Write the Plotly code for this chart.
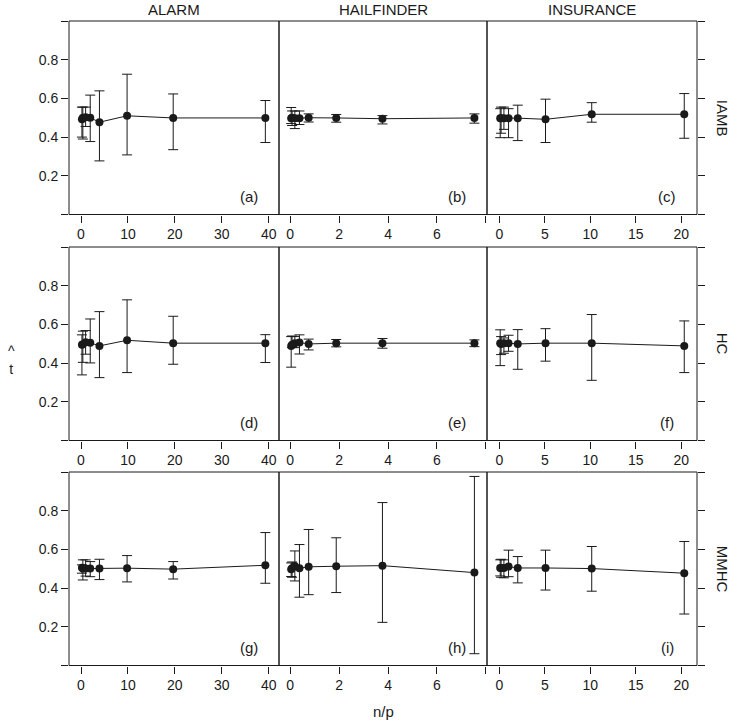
import plotly.graph_objects as go

# ---------------- data ----------------
networks = ["ALARM", "HAILFINDER", "INSURANCE"]
algorithms = ["IAMB", "HC", "MMHC"]
panel_tags = ["(a)", "(b)", "(c)", "(d)", "(e)", "(f)", "(g)", "(h)", "(i)"]

# n/p ratios per network
x_alarm = [0.196, 0.393, 0.982, 1.965, 3.93, 9.82, 19.65, 39.29]
x_hailfinder = [0.038, 0.075, 0.188, 0.376, 0.753, 1.88, 3.77, 7.53]
x_insurance = [0.10, 0.20, 0.51, 1.02, 2.03, 5.08, 10.16, 20.33]

# IAMB
mean_a = [0.492, 0.500, 0.503, 0.500, 0.477, 0.510, 0.499, 0.499]
low_a = [0.400, 0.390, 0.455, 0.377, 0.277, 0.308, 0.335, 0.372]
up_a = [0.555, 0.555, 0.555, 0.617, 0.639, 0.725, 0.623, 0.589]

mean_b = [0.497, 0.500, 0.497, 0.498, 0.500, 0.499, 0.495, 0.499]
low_b = [0.470, 0.460, 0.444, 0.465, 0.478, 0.477, 0.468, 0.472]
up_b = [0.553, 0.535, 0.535, 0.535, 0.520, 0.517, 0.511, 0.520]

mean_c = [0.498, 0.498, 0.498, 0.498, 0.498, 0.492, 0.518, 0.518]
low_c = [0.397, 0.420, 0.440, 0.397, 0.382, 0.372, 0.477, 0.394]
up_c = [0.547, 0.555, 0.555, 0.547, 0.565, 0.596, 0.578, 0.625]

# HC
mean_d = [0.495, 0.498, 0.508, 0.505, 0.489, 0.518, 0.503, 0.503]
low_d = [0.339, 0.404, 0.446, 0.401, 0.325, 0.351, 0.394, 0.403]
up_d = [0.546, 0.565, 0.568, 0.628, 0.666, 0.727, 0.642, 0.547]

mean_e = [0.489, 0.495, 0.503, 0.506, 0.499, 0.503, 0.503, 0.503]
low_e = [0.379, 0.480, 0.480, 0.447, 0.468, 0.484, 0.477, 0.485]
up_e = [0.537, 0.540, 0.537, 0.546, 0.524, 0.522, 0.527, 0.520]

mean_f = [0.503, 0.499, 0.503, 0.503, 0.499, 0.503, 0.503, 0.489]
low_f = [0.387, 0.444, 0.451, 0.461, 0.368, 0.410, 0.311, 0.351]
up_f = [0.572, 0.537, 0.530, 0.544, 0.573, 0.578, 0.651, 0.618]

# MMHC
mean_g = [0.505, 0.501, 0.501, 0.501, 0.501, 0.503, 0.498, 0.518]
low_g = [0.477, 0.442, 0.462, 0.459, 0.444, 0.432, 0.447, 0.425]
up_g = [0.520, 0.546, 0.546, 0.537, 0.549, 0.568, 0.537, 0.687]

mean_h = [0.498, 0.503, 0.514, 0.503, 0.510, 0.513, 0.516, 0.480]
low_h = [0.460, 0.456, 0.437, 0.353, 0.366, 0.377, 0.223, 0.061]
up_h = [0.530, 0.535, 0.592, 0.625, 0.703, 0.660, 0.842, 0.977]

mean_i = [0.504, 0.504, 0.504, 0.511, 0.504, 0.504, 0.501, 0.477]
low_i = [0.463, 0.456, 0.453, 0.459, 0.427, 0.390, 0.384, 0.266]
up_i = [0.546, 0.549, 0.546, 0.596, 0.563, 0.596, 0.615, 0.641]

x_by_col = [x_alarm, x_hailfinder, x_insurance]
series = [
    [(mean_a, low_a, up_a), (mean_b, low_b, up_b), (mean_c, low_c, up_c)],
    [(mean_d, low_d, up_d), (mean_e, low_e, up_e), (mean_f, low_f, up_f)],
    [(mean_g, low_g, up_g), (mean_h, low_h, up_h), (mean_i, low_i, up_i)],
]

x_ticks = [[0, 10, 20, 30, 40], [0, 2, 4, 6, 8], [0, 5, 10, 15, 20]]
x_ticktext = [["0", "10", "20", "30", "40"], ["0", "2", "4", "6", ""], ["0", "5", "10", "15", "20"]]
x_ranges = [[-2.56, 42.2], [-0.46, 8.045], [-1.35, 21.73]]
y_ticks = [0, 0.2, 0.4, 0.6, 0.8, 1.0]
y_ticktext = ["", "0.2", "0.4", "0.6", "0.8", ""]

# ---------------- layout geometry ----------------
W, H = 740, 722
col_px = [(69, 279), (279, 487), (487, 697)]
row_px = [(21, 214.5), (247, 440.5), (472, 665.5)]

INK = "#1a1a1a"
FONT = "Liberation Sans, Arial, sans-serif"

fig = go.Figure()
layout = dict(
    width=W, height=H,
    margin=dict(l=0, r=0, t=0, b=0),
    paper_bgcolor="white", plot_bgcolor="white",
    showlegend=False,
    font=dict(family=FONT, size=14, color=INK),
)
annotations = []
shapes = []

k = 0
for r in range(3):
    for c in range(3):
        k += 1
        xa = "xaxis" if k == 1 else f"xaxis{k}"
        ya = "yaxis" if k == 1 else f"yaxis{k}"
        xref = "x" if k == 1 else f"x{k}"
        yref = "y" if k == 1 else f"y{k}"
        mean, low, up = series[r][c]
        xs = x_by_col[c]
        fig.add_trace(go.Scatter(
            x=xs, y=mean, mode="lines+markers",
            xaxis=xref, yaxis=yref,
            line=dict(color=INK, width=1),
            marker=dict(color=INK, size=8, symbol="circle"),
            error_y=dict(
                type="data", symmetric=False,
                array=[u - m for u, m in zip(up, mean)],
                arrayminus=[m - l for m, l in zip(mean, low)],
                color=INK, thickness=1, width=5,
            ),
            cliponaxis=False,
        ))
        x0, x1 = col_px[c]
        y0, y1 = row_px[r]
        layout[xa] = dict(
            domain=[x0 / W, x1 / W], range=x_ranges[c],
            anchor=yref, showgrid=False, zeroline=False, showline=False,
            ticks="outside", ticklen=7, tickwidth=1, tickcolor=INK,
            tickvals=x_ticks[c], ticktext=x_ticktext[c],
            tickfont=dict(size=14, color=INK, family=FONT),
        )
        ydict = dict(
            domain=[1 - y1 / H, 1 - y0 / H], range=[0, 1],
            anchor=xref, showgrid=False, zeroline=False, showline=False,
            tickvals=y_ticks, ticktext=y_ticktext,
            tickfont=dict(size=14, color=INK, family=FONT),
        )
        if c == 0:
            ydict.update(ticks="outside", ticklen=7, tickwidth=1, tickcolor=INK, showticklabels=True)
        elif c == 2:
            ydict.update(side="right", ticks="outside", ticklen=7, tickwidth=1, tickcolor=INK, showticklabels=False)
        else:
            ydict.update(ticks="", showticklabels=False)
        layout[ya] = ydict
        # panel frame
        shapes.append(dict(
            type="rect", xref="paper", yref="paper",
            x0=x0 / W, x1=x1 / W, y0=1 - y1 / H, y1=1 - y0 / H,
            line=dict(color=INK, width=1), fillcolor="rgba(0,0,0,0)", layer="above",
        ))
        # panel tag
        annotations.append(dict(
            x=(x1 - 30) / W, y=1 - (y1 - 18) / H, xref="paper", yref="paper",
            text=panel_tags[k - 1], showarrow=False,
            font=dict(size=15, color=INK, family=FONT),
            xanchor="center", yanchor="middle",
        ))

# column strip titles
for c, name in enumerate(networks):
    x0, x1 = col_px[c]
    annotations.append(dict(
        x=(x0 + x1) / 2 / W, y=1 - 10 / H, xref="paper", yref="paper",
        text=name, showarrow=False, font=dict(size=15, color=INK, family=FONT),
        xanchor="center", yanchor="middle",
    ))
# row labels
for r, name in enumerate(algorithms):
    y0, y1 = row_px[r]
    annotations.append(dict(
        x=722 / W, y=1 - (y0 + y1) / 2 / H, xref="paper", yref="paper",
        text=name, showarrow=False, textangle=90,
        font=dict(size=15, color=INK, family=FONT),
        xanchor="center", yanchor="middle",
    ))
# axis titles
annotations.append(dict(
    x=383 / W, y=1 - 711 / H, xref="paper", yref="paper",
    text="n/p", showarrow=False, font=dict(size=15, color=INK, family=FONT),
    xanchor="center", yanchor="middle",
))
annotations.append(dict(
    x=11 / W, y=1 - 360 / H, xref="paper", yref="paper",
    text="^<br>t", showarrow=False, align="center",
    font=dict(size=14, color=INK, family=FONT),
    xanchor="center", yanchor="middle",
))

layout["annotations"] = annotations
layout["shapes"] = shapes
fig.update_layout(**layout)
fig.write_html(
    "out.html",
    config={"displayModeBar": False},
    post_script="document.body.style.margin='0px';document.body.style.overflow='hidden';",
)
